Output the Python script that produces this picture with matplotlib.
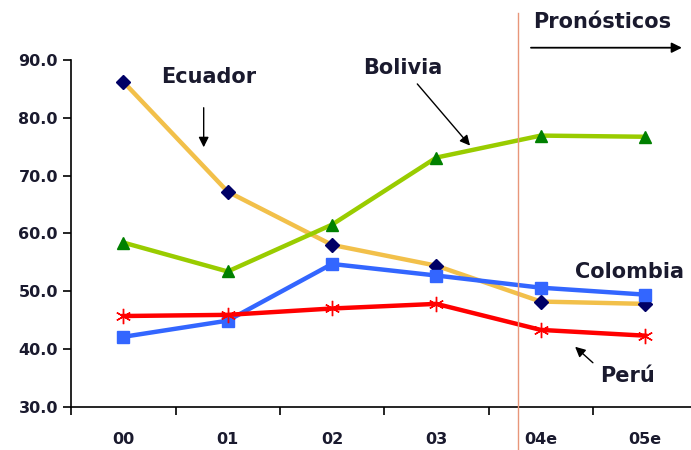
import matplotlib
matplotlib.use("Agg")
import matplotlib.pyplot as plt
from matplotlib.lines import Line2D

years = ["00", "01", "02", "03", "04e", "05e"]
ecuador = [86.2, 67.2, 58.0, 54.4, 48.2, 47.8]
bolivia = [58.4, 53.4, 61.5, 73.1, 76.9, 76.7]
colombia = [42.1, 44.9, 54.7, 52.7, 50.6, 49.4]
peru = [45.7, 45.9, 47.0, 47.8, 43.3, 42.3]

x = list(range(len(years)))
txt = "#1a1a2e"

fig = plt.figure(figsize=(6.91, 4.5), dpi=100)
ax = fig.add_axes([0.103, 0.096, 0.906, 0.771])

ax.plot(x, ecuador, color="#F2C04A", lw=3.2, marker="D", ms=7,
        mfc="#000066", mec="#000066", zorder=3)
ax.plot(x, bolivia, color="#99CC00", lw=3.2, marker="^", ms=9,
        mfc="#008000", mec="#008000", zorder=3)
ax.plot(x, colombia, color="#3366FF", lw=3.2, marker="s", ms=8,
        mfc="#3366FF", mec="#3366FF", zorder=3)
ax.plot(x, peru, color="#FF0000", lw=3.2, marker=(6, 2, 0), ms=11,
        mec="#FF0000", mew=1, zorder=4)

# forecast divider, runs over the full height of the picture
fig.add_artist(Line2D([0.7496, 0.7496], [0.0, 0.971], transform=fig.transFigure,
                      color="#E8967A", lw=1, zorder=1))

ax.set_xlim(-0.5, 5.5)
ax.set_ylim(30, 90)
ax.set_yticks(range(30, 91, 10))
ax.set_yticklabels([f"{v:.1f}" for v in range(30, 91, 10)])
ax.set_xticks(x)
ax.set_xticklabels(years)
ax.set_xticks([i + 0.5 for i in range(-1, 6)], minor=True)
ax.tick_params(axis="x", which="major", length=0, pad=18)
ax.tick_params(axis="x", which="minor", length=6, width=1.2, direction="out")
ax.tick_params(axis="y", length=6, width=1.2, direction="out")
for lab in ax.get_xticklabels() + ax.get_yticklabels():
    lab.set_fontweight("bold")
    lab.set_fontsize(11.5)
    lab.set_color(txt)

for s in ["top", "right"]:
    ax.spines[s].set_visible(False)
for s in ["left", "bottom"]:
    ax.spines[s].set_linewidth(1.2)

fs = 15
kw = dict(fontsize=fs, fontweight="bold", color=txt, va="baseline",
          clip_on=False)
arrow = dict(arrowstyle="-|>,head_length=0.6,head_width=0.3",
             color="black", lw=1)

ax.text(0.36, 86.0, "Ecuador", **kw)
ax.annotate("", xy=(0.77, 74.4), xytext=(0.77, 82.2), arrowprops=arrow)
ax.text(2.30, 87.6, "Bolivia", **kw)
ax.annotate("", xy=(3.34, 74.8), xytext=(2.80, 86.2), arrowprops=arrow)
ax.text(4.33, 52.3, "Colombia", **kw)
ax.text(4.57, 34.3, "Perú", **kw)
ax.annotate("", xy=(4.31, 40.7), xytext=(4.52, 37.3), arrowprops=arrow)
ax.text(3.93, 95.5, "Pronósticos", **kw)
ax.annotate("", xy=(5.38, 92.1), xytext=(3.88, 92.1),
            arrowprops=dict(arrowstyle="-|>,head_length=0.6,head_width=0.3",
                            color="black", lw=1.3),
            annotation_clip=False)

fig.savefig("out.png", dpi=100)
